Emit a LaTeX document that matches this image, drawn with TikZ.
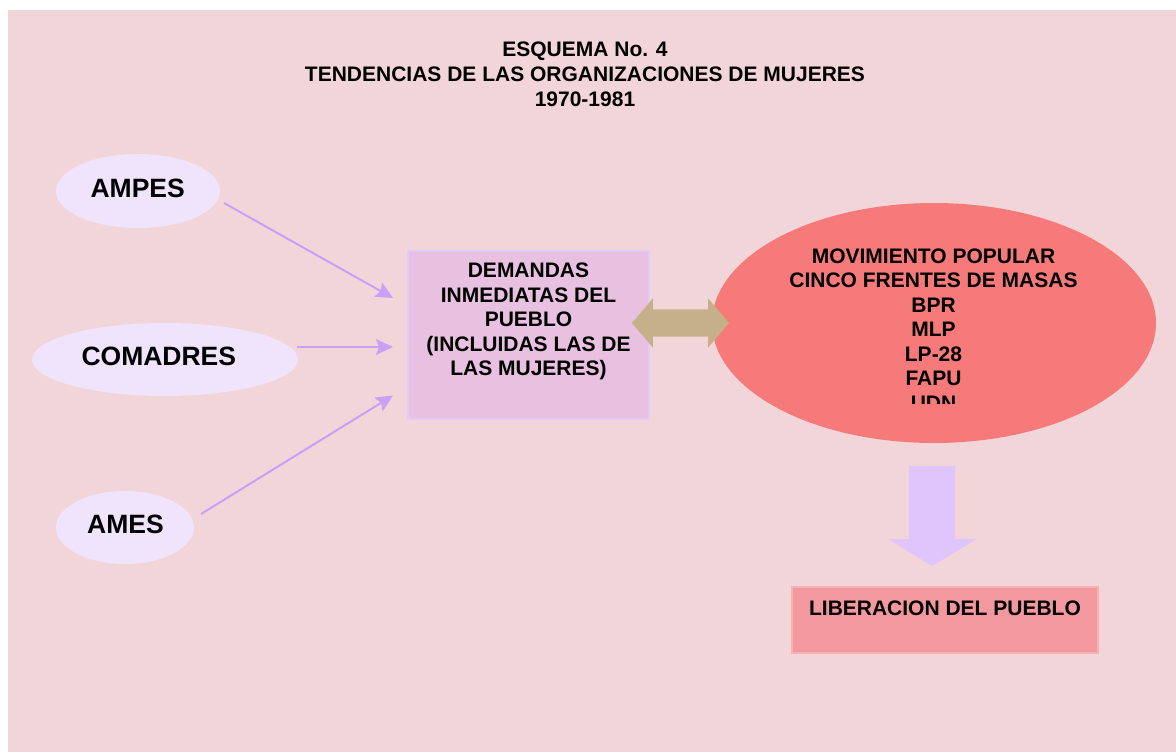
\documentclass[tikz,border=0pt]{standalone}
\usepackage{fontspec}
\setmainfont{Liberation Sans}
\usetikzlibrary{arrows.meta,shapes.geometric}
\definecolor{bgc}{HTML}{F2D5D8}
\definecolor{smallell}{HTML}{F0E4FC}
\definecolor{bigell}{HTML}{F77A7A}
\definecolor{demfill}{HTML}{E8C0E0}
\definecolor{demline}{HTML}{E2CAFA}
\definecolor{libfill}{HTML}{F4989F}
\definecolor{libline}{HTML}{F8B2B2}
\definecolor{arrc}{HTML}{C8A0F8}
\definecolor{dblc}{HTML}{C6B08A}
\definecolor{downc}{HTML}{E0C4FC}
\tikzset{
  txt/.style={inner sep=0pt, align=center, font=\bfseries\fontsize{21}{24.5}\selectfont},
  titletxt/.style={inner sep=0pt, align=center, font=\bfseries\fontsize{21}{25}\selectfont},
  orgtxt/.style={inner sep=0pt, font=\bfseries\fontsize{26.5}{30}\selectfont},
  orgell/.style={ellipse, fill=smallell, inner sep=0pt},
  feed/.style={draw=arrc, line width=2pt, -{Stealth[length=17pt,width=16pt,inset=3pt]}},
}
\begin{document}
\begin{tikzpicture}[x=1pt,y=-1pt]
\useasboundingbox (0,0) rectangle (1176,752);
\fill[bgc] (8,10) rectangle (1176,752);

% title
\node[titletxt, anchor=north] (title) at (585,41.5)
  {ESQUEMA No. 4\\TENDENCIAS DE LAS ORGANIZACIONES DE MUJERES\\1970-1981};

% left organisations
\node[orgell, minimum width=164pt, minimum height=74pt] (ampes) at (138,191) {};
\node[orgtxt, anchor=base] (ampesT) at (137.7,197.7) {AMPES};
\node[orgell, minimum width=266pt, minimum height=73pt] (comadres) at (165,359.5) {};
\node[orgtxt, anchor=base] (comadresT) at (158.8,365) {COMADRES};
\node[orgell, minimum width=138pt, minimum height=73pt] (ames) at (125,527.5) {};
\node[orgtxt, anchor=base] (amesT) at (125.5,533.3) {AMES};

% demandas box
\node[draw=demline, line width=2pt, fill=demfill, minimum width=241pt, minimum height=168pt, inner sep=0pt] (dem) at (528.5,335) {};
\node[txt, anchor=north] (demT) at (528.5,262.7)
  {DEMANDAS\\INMEDIATAS DEL\\PUEBLO\\(INCLUIDAS LAS DE\\LAS MUJERES)};

% feeding arrows
\coordinate (s1) at (224,203);
\coordinate (e1) at (393,298);
\coordinate (s2) at (297,347);
\coordinate (e2) at (393,347);
\coordinate (s3) at (201,514);
\coordinate (e3) at (393,395.5);
\draw[feed] (s1) -- (e1);
\draw[feed] (s2) -- (e2);
\draw[feed] (s3) -- (e3);

% movimiento popular ellipse
\node[ellipse, fill=bigell, minimum width=444pt, minimum height=240pt, inner sep=0pt] (mov) at (934,323) {};
\begin{scope}
  \clip (700,200) rectangle (1170,403.3);
  \node[txt, anchor=north] (movT) at (933.5,248.3)
    {MOVIMIENTO POPULAR\\CINCO FRENTES DE MASAS\\BPR\\MLP\\LP-28\\FAPU\\UDN};
\end{scope}

% double block arrow
\fill[dblc] (632,323) -- (652.8,298.5) -- (652.8,309.3) -- (708.2,309.3) -- (708.2,298.5)
  -- (729,323) -- (708.2,347.5) -- (708.2,336.7) -- (652.8,336.7) -- (652.8,347.5) -- cycle;

% down block arrow
\fill[downc] (909,466) -- (955,466) -- (955,539) -- (977,539) -- (932,566) -- (888,539) -- (909,539) -- cycle;

% liberacion box
\node[draw=libline, line width=2pt, fill=libfill, minimum width=306pt, minimum height=66pt, inner sep=0pt] (lib) at (945,620) {};
\node[txt, anchor=base] (libT) at (945,615) {LIBERACION DEL PUEBLO};
\end{tikzpicture}
\end{document}
